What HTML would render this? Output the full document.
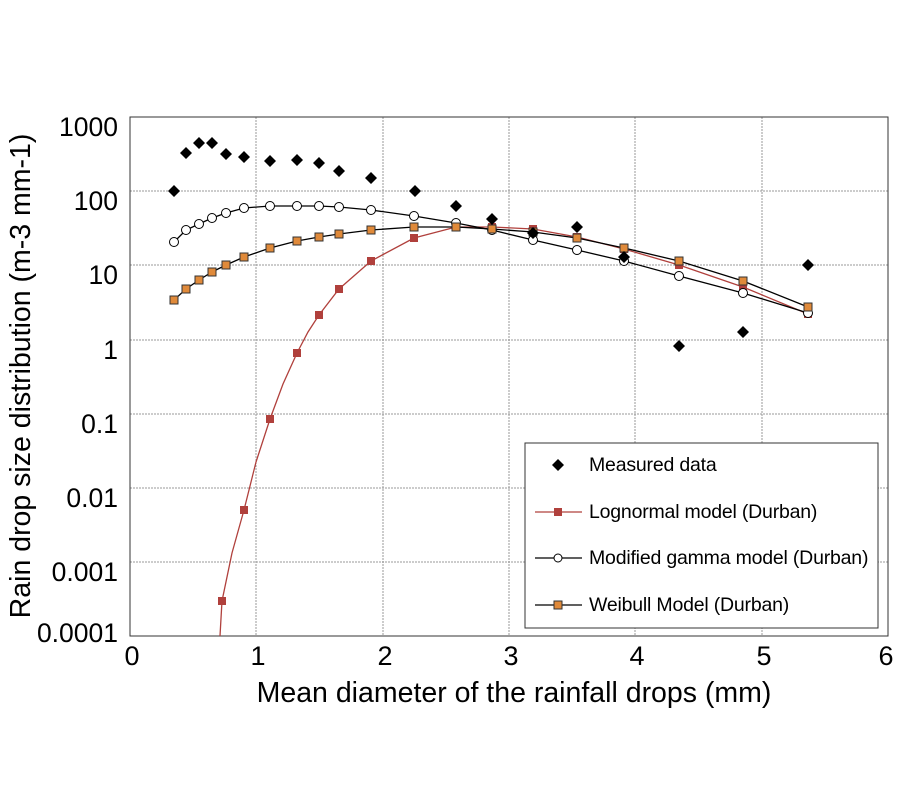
<!DOCTYPE html>
<html><head><meta charset="utf-8"><style>
body{margin:0;background:#fff;}
svg{display:block;font-family:"Liberation Sans",sans-serif;}
</style></head><body>
<svg width="900" height="800" viewBox="0 0 900 800">
<rect width="900" height="800" fill="#fff"/>
<g stroke="#999" stroke-width="1" stroke-dasharray="2,1">
<line x1="256" y1="117" x2="256" y2="636"/><line x1="383" y1="117" x2="383" y2="636"/>
<line x1="509" y1="117" x2="509" y2="636"/><line x1="635" y1="117" x2="635" y2="636"/>
<line x1="762" y1="117" x2="762" y2="636"/>
<line x1="130" y1="191" x2="888" y2="191"/><line x1="130" y1="265" x2="888" y2="265"/>
<line x1="130" y1="340" x2="888" y2="340"/><line x1="130" y1="414" x2="888" y2="414"/>
<line x1="130" y1="488" x2="888" y2="488"/><line x1="130" y1="562" x2="888" y2="562"/>
</g>
<rect x="130" y="117" width="758" height="519" fill="none" stroke="#333" stroke-width="1"/>
<g font-size="26.5" text-anchor="end">
<text x="118" y="136">1000</text><text x="118" y="210">100</text><text x="118" y="284">10</text>
<text x="118" y="359">1</text><text x="118" y="433">0.1</text><text x="118" y="507">0.01</text>
<text x="118" y="581">0.001</text><text x="118" y="642">0.0001</text>
</g>
<g font-size="27" text-anchor="middle">
<text x="132" y="665">0</text><text x="258" y="665">1</text><text x="385" y="665">2</text>
<text x="511" y="665">3</text><text x="637" y="665">4</text><text x="764" y="665">5</text><text x="886" y="665">6</text>
</g>
<g font-size="28.5" text-anchor="middle">
<text x="514" y="702">Mean diameter of the rainfall drops (mm)</text>
<text transform="translate(30,376) rotate(-90)">Rain drop size distribution (m-3 mm-1)</text>
</g>
<!-- lognormal -->
<polyline fill="none" stroke="#b0403c" stroke-width="1.3" points="220,636 222,601 232,553 244,510 256,462 270,419 283,384 297,353 308,332 319,315 339,289 371,261 414,238 456,227 492,227 533,229 577,237 624,249 679,265 743,287 808,314"/>
<g fill="#b0403c">
<rect x="218" y="597" width="8" height="8"/><rect x="240" y="506" width="8" height="8"/><rect x="266" y="415" width="8" height="8"/>
<rect x="293" y="349" width="8" height="8"/><rect x="315" y="311" width="8" height="8"/><rect x="335" y="285" width="8" height="8"/>
<rect x="367" y="257" width="8" height="8"/><rect x="410" y="234" width="8" height="8"/><rect x="452" y="223" width="8" height="8"/>
<rect x="488" y="223" width="8" height="8"/><rect x="529" y="225" width="8" height="8"/><rect x="573" y="233" width="8" height="8"/>
<rect x="620" y="245" width="8" height="8"/><rect x="675" y="261" width="8" height="8"/><rect x="739" y="283" width="8" height="8"/><rect x="804" y="310" width="8" height="8"/>
</g>
<!-- gamma -->
<polyline fill="none" stroke="#000" stroke-width="1.3" points="174,242 186,230 199,224 212,218 226,213 244,208 270,206 297,206 319,206 339,207 371,210 414,216 456,223 492,230 533,240 577,250 624,261 679,276 743,293 808,313"/>
<g fill="#fff" stroke="#000" stroke-width="1">
<circle cx="174" cy="242" r="4.5"/><circle cx="186" cy="230" r="4.5"/><circle cx="199" cy="224" r="4.5"/><circle cx="212" cy="218" r="4.5"/>
<circle cx="226" cy="213" r="4.5"/><circle cx="244" cy="208" r="4.5"/><circle cx="270" cy="206" r="4.5"/><circle cx="297" cy="206" r="4.5"/>
<circle cx="319" cy="206" r="4.5"/><circle cx="339" cy="207" r="4.5"/><circle cx="371" cy="210" r="4.5"/><circle cx="414" cy="216" r="4.5"/>
<circle cx="456" cy="223" r="4.5"/><circle cx="492" cy="230" r="4.5"/><circle cx="533" cy="240" r="4.5"/><circle cx="577" cy="250" r="4.5"/>
<circle cx="624" cy="261" r="4.5"/><circle cx="679" cy="276" r="4.5"/><circle cx="743" cy="293" r="4.5"/><circle cx="808" cy="313" r="4.5"/>
</g>
<!-- weibull -->
<polyline fill="none" stroke="#000" stroke-width="1.3" points="174,300 186,289 199,280 212,272 226,265 244,257 270,248 297,241 319,237 339,234 371,230 414,227 456,227 492,229 533,232 577,238 624,248 679,261 743,281 808,307"/>
<g fill="#e08a3a" stroke="#333" stroke-width="1">
<rect x="170" y="296" width="8" height="8"/><rect x="182" y="285" width="8" height="8"/><rect x="195" y="276" width="8" height="8"/>
<rect x="208" y="268" width="8" height="8"/><rect x="222" y="261" width="8" height="8"/><rect x="240" y="253" width="8" height="8"/>
<rect x="266" y="244" width="8" height="8"/><rect x="293" y="237" width="8" height="8"/><rect x="315" y="233" width="8" height="8"/>
<rect x="335" y="230" width="8" height="8"/><rect x="367" y="226" width="8" height="8"/><rect x="410" y="223" width="8" height="8"/>
<rect x="452" y="223" width="8" height="8"/><rect x="488" y="225" width="8" height="8"/><rect x="529" y="228" width="8" height="8"/>
<rect x="573" y="234" width="8" height="8"/><rect x="620" y="244" width="8" height="8"/><rect x="675" y="257" width="8" height="8"/>
<rect x="739" y="277" width="8" height="8"/><rect x="804" y="303" width="8" height="8"/>
</g>
<!-- measured -->
<g fill="#000">
<path d="M174,185l6,6l-6,6l-6,-6z M186,147l6,6l-6,6l-6,-6z M199,137l6,6l-6,6l-6,-6z M212,137l6,6l-6,6l-6,-6z M226,148l6,6l-6,6l-6,-6z M244,151l6,6l-6,6l-6,-6z M270,155l6,6l-6,6l-6,-6z M297,154l6,6l-6,6l-6,-6z M319,157l6,6l-6,6l-6,-6z M339,165l6,6l-6,6l-6,-6z M371,172l6,6l-6,6l-6,-6z M415,185l6,6l-6,6l-6,-6z M456,200l6,6l-6,6l-6,-6z M492,213l6,6l-6,6l-6,-6z M533,227l6,6l-6,6l-6,-6z M577,221l6,6l-6,6l-6,-6z M624,251l6,6l-6,6l-6,-6z M679,340l6,6l-6,6l-6,-6z M743,326l6,6l-6,6l-6,-6z M808,259l6,6l-6,6l-6,-6z"/>
</g>
<!-- legend -->
<rect x="525" y="443" width="353" height="185" fill="#fff" stroke="#333" stroke-width="1"/>
<path d="M558,459l6,6l-6,6l-6,-6z" fill="#000"/>
<line x1="535" y1="512" x2="582" y2="512" stroke="#b0403c" stroke-width="1.3"/><rect x="554" y="508" width="8" height="8" fill="#b0403c"/>
<line x1="535" y1="558" x2="582" y2="558" stroke="#000" stroke-width="1.3"/><circle cx="558" cy="558" r="4" fill="#fff" stroke="#000"/>
<line x1="535" y1="605" x2="582" y2="605" stroke="#000" stroke-width="1.3"/><rect x="554" y="601" width="8" height="8" fill="#e08a3a" stroke="#333"/>
<g font-size="19.5" letter-spacing="-0.2">
<text x="589" y="471">Measured data</text>
<text x="589" y="518">Lognormal model (Durban)</text>
<text x="589" y="564">Modified gamma model (Durban)</text>
<text x="589" y="611">Weibull Model (Durban)</text>
</g>
</svg>
</body></html>
